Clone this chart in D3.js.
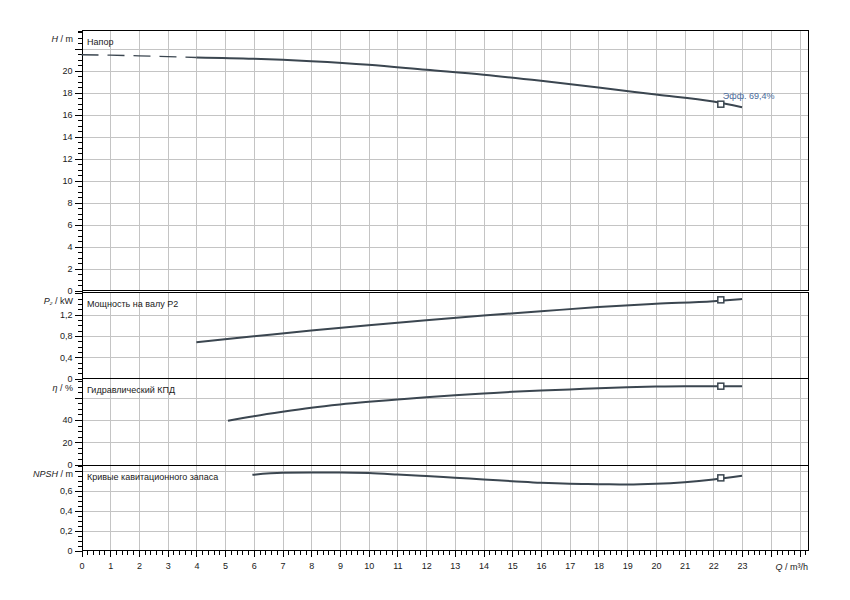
<!DOCTYPE html>
<html><head><meta charset="utf-8">
<script src="https://cdn.jsdelivr.net/npm/d3@7"></script>
<style>
body{margin:0;background:#fff;}
svg text{font-family:"Liberation Sans",Arial,sans-serif;font-size:9px;fill:#1a1a1a;}
</style></head>
<body><svg id="c" width="850" height="600"></svg>
<script>
// ---- data ----
const headDashQ = [0, 1, 2, 3, 4];
const headDashH = [21.46, 21.42, 21.36, 21.29, 21.21];
const headQ = [4, 6, 8, 10, 12, 14, 16, 18, 20, 22, 23];
const headH = [21.21, 21.09, 20.87, 20.55, 20.09, 19.64, 19.09, 18.48, 17.84, 17.21, 16.69];
const powerQ = [4, 6, 8, 10, 12, 14, 16, 18, 20, 22, 23];
const powerP = [0.68, 0.79, 0.90, 1.00, 1.09, 1.18, 1.26, 1.34, 1.40, 1.45, 1.49];
const effQ = [5.1, 6, 7, 8, 9, 10, 11, 12, 13, 14, 15, 16, 17, 18, 19, 20, 21, 22, 23];
const effE = [39.3, 43.4, 47.4, 51, 53.9, 56.3, 58.4, 60.5, 62.3, 63.8, 65.3, 66.5, 67.4, 68.6, 69.5, 70.1, 70.4, 70.4, 70.4];
const npshQ = [5.95, 7, 8, 9, 10, 11, 12, 13, 14, 15, 16, 17, 18, 19, 20, 21, 22, 23];
const npshN = [0.761, 0.781, 0.784, 0.784, 0.778, 0.764, 0.748, 0.731, 0.714, 0.697, 0.68, 0.67, 0.667, 0.663, 0.67, 0.687, 0.714, 0.751];
const dutyQ = 22.26;
const dutyValues = [16.96, 1.475, 70.4, 0.73];
const dutyLabel = "Эфф. 69,4%";
const xTickLabels = d3.range(0, 24);
const panelTitles = ["Напор", "Мощность на валу P2", "Гидравлический КПД", "Кривые кавитационного запаса"];

// ---- layout ----
const svg = d3.select("#c");
const X0 = 81.5, UNIT = 28.72, XR = 808.5;
const x = d3.scaleLinear().domain([0, 25]).range([X0, X0 + 25 * UNIT]);
const gridColor = "#c4c4c4", curveColor = "#3b4650", frameColor = "#000";

const panels = [
  {bottom: 290.5, top: 30.5, unit: 10.985, major: 2, minor: 0.5, labelMax: 20, fmt: d => d3.format("d")(d), tOff: 11,
   q: headQ, v: headH, title: panelTitles[0], axisTitle: [["H", true], [" / m", false]]},
  {bottom: 378.5, top: 292.5, unit: 53.33, major: 0.4, minor: 0.1, labelMax: 1.2, fmt: d => d === 0 ? "0" : d3.format(".1f")(d).replace(".", ","), tOff: 11,
   q: powerQ, v: powerP, title: panelTitles[1], axisTitle: [["P", true], ["₂", true], [" / kW", false]]},
  {bottom: 464.5, top: 378.5, unit: 1.1125, major: 20, minor: 5, labelMax: 40, fmt: d => d3.format("d")(d), tOff: 12.5,
   q: effQ, v: effE, title: panelTitles[2], axisTitle: [["η", true], [" / %", false]]},
  {bottom: 550.5, top: 465.5, unit: 99.5, major: 0.2, minor: 0.05, labelMax: 0.6, fmt: d => d === 0 ? "0" : d3.format(".1f")(d).replace(".", ","), tOff: 11.5,
   q: npshQ, v: npshN, title: panelTitles[3], axisTitle: [["NPSH", true], [" / m", false]]}
];

panels.forEach((p, i) => {
  const maxV = (p.bottom - p.top) / p.unit;
  const y = d3.scaleLinear().domain([0, maxV]).range([p.bottom, p.top]);
  const g = svg.append("g");
  const eps = 1e-9;
  const majors = d3.range(0, maxV + eps, p.major).map(v => +v.toFixed(4)).filter(v => v <= maxV);
  const minors = d3.range(0, maxV + eps, p.minor).map(v => +v.toFixed(4)).filter(v => v <= maxV);
  // grid
  g.selectAll(".hg").data(majors.filter(v => v > 0 && y(v) > p.top + 1)).join("line")
    .attr("x1", X0).attr("x2", XR).attr("y1", d => Math.round(y(d)) + 0.5).attr("y2", d => Math.round(y(d)) + 0.5)
    .attr("stroke", gridColor).attr("shape-rendering", "crispEdges");
  g.selectAll(".vg").data(d3.range(1, 26)).join("line")
    .attr("x1", d => Math.round(x(d)) + 0.5).attr("x2", d => Math.round(x(d)) + 0.5)
    .attr("y1", p.top).attr("y2", p.bottom)
    .attr("stroke", gridColor).attr("shape-rendering", "crispEdges");
  // frame
  g.append("line").attr("x1", X0).attr("x2", XR).attr("y1", p.top).attr("y2", p.top).attr("stroke", frameColor).attr("shape-rendering", "crispEdges");
  g.append("line").attr("x1", XR).attr("x2", XR).attr("y1", p.top).attr("y2", p.bottom).attr("stroke", frameColor).attr("shape-rendering", "crispEdges");
  // axes
  const ax = g.append("g").attr("transform", `translate(${X0},0)`)
    .call(d3.axisLeft(y).tickValues(minors).tickSize(4).tickFormat(""));
  ax.selectAll("line").attr("stroke", frameColor).attr("shape-rendering", "crispEdges");
  ax.select(".domain").attr("stroke", frameColor).attr("shape-rendering", "crispEdges");
  const am = g.append("g").attr("transform", `translate(${X0},0)`)
    .call(d3.axisLeft(y).tickValues(majors).tickSize(7).tickPadding(2)
      .tickFormat(d => d <= p.labelMax + 1e-6 ? p.fmt(d) : ""));
  am.select(".domain").remove();
  am.selectAll("line").attr("stroke", frameColor).attr("shape-rendering", "crispEdges");
  am.selectAll("text").attr("font-family", null).attr("font-size", null).attr("fill", "#1a1a1a");
  // axis title
  const at = g.append("text").attr("x", 73).attr("y", p.top + p.tOff).attr("text-anchor", "end");
  p.axisTitle.forEach(([t, it]) => {
    const ts = at.append("tspan").text(t);
    if (it) ts.attr("font-style", "italic");
    if (t === "₂") ts.attr("font-size", "7px");
  });
  // panel title
  g.append("text").attr("x", 87).attr("y", p.top + 14).text(p.title);
  // curve
  const line = d3.line().x(d => x(d[0])).y(d => y(d[1])).curve(d3.curveMonotoneX);
  g.append("path").datum(p.q.map((q, k) => [q, p.v[k]])).attr("d", line)
    .attr("fill", "none").attr("stroke", curveColor).attr("stroke-width", 2);
  if (i === 0) {
    g.append("path").datum(headDashQ.map((q, k) => [q, headDashH[k]])).attr("d", line)
      .attr("fill", "none").attr("stroke", curveColor).attr("stroke-width", 1.3).attr("stroke-dasharray", "17,9");
  }
  // duty marker
  g.append("rect").attr("x", x(dutyQ) - 3).attr("y", y(dutyValues[i]) - 3).attr("width", 6).attr("height", 6)
    .attr("fill", "#fff").attr("stroke", curveColor).attr("stroke-width", 1.5);
  if (i === 0) {
    g.append("text").attr("x", x(dutyQ) + 2).attr("y", y(dutyValues[i]) - 5).style("fill", "#4a6a9a").text(dutyLabel);
  }
});

// separator line below head panel
svg.append("line").attr("x1", X0).attr("x2", XR).attr("y1", 290.5).attr("y2", 290.5).attr("stroke", frameColor).attr("shape-rendering", "crispEdges");

// x axis
const bottom = 550.5;
const xMin = svg.append("g").attr("transform", `translate(0,${bottom})`)
  .call(d3.axisBottom(x).tickValues(d3.range(0, 25.3, 0.2).map(v => +v.toFixed(2))).tickSize(4).tickFormat(""));
xMin.select(".domain").remove();
xMin.selectAll("line").attr("stroke", frameColor).attr("shape-rendering", "crispEdges");
const xMaj = svg.append("g").attr("transform", `translate(0,${bottom})`)
  .call(d3.axisBottom(x).tickValues(d3.range(0, 26)).tickSize(6).tickPadding(6)
    .tickFormat(d => xTickLabels.includes(d) ? d : ""));
xMaj.select(".domain").remove();
xMaj.selectAll("line").attr("stroke", frameColor).attr("shape-rendering", "crispEdges");
xMaj.selectAll("text").attr("font-family", null).attr("font-size", null).attr("fill", "#1a1a1a");
svg.append("line").attr("x1", X0).attr("x2", XR).attr("y1", bottom).attr("y2", bottom).attr("stroke", frameColor).attr("shape-rendering", "crispEdges");
const qt = svg.append("text").attr("x", 808).attr("y", 570).attr("text-anchor", "end");
qt.append("tspan").attr("font-style", "italic").text("Q");
qt.append("tspan").text(" / m³/h");
</script></body></html>
